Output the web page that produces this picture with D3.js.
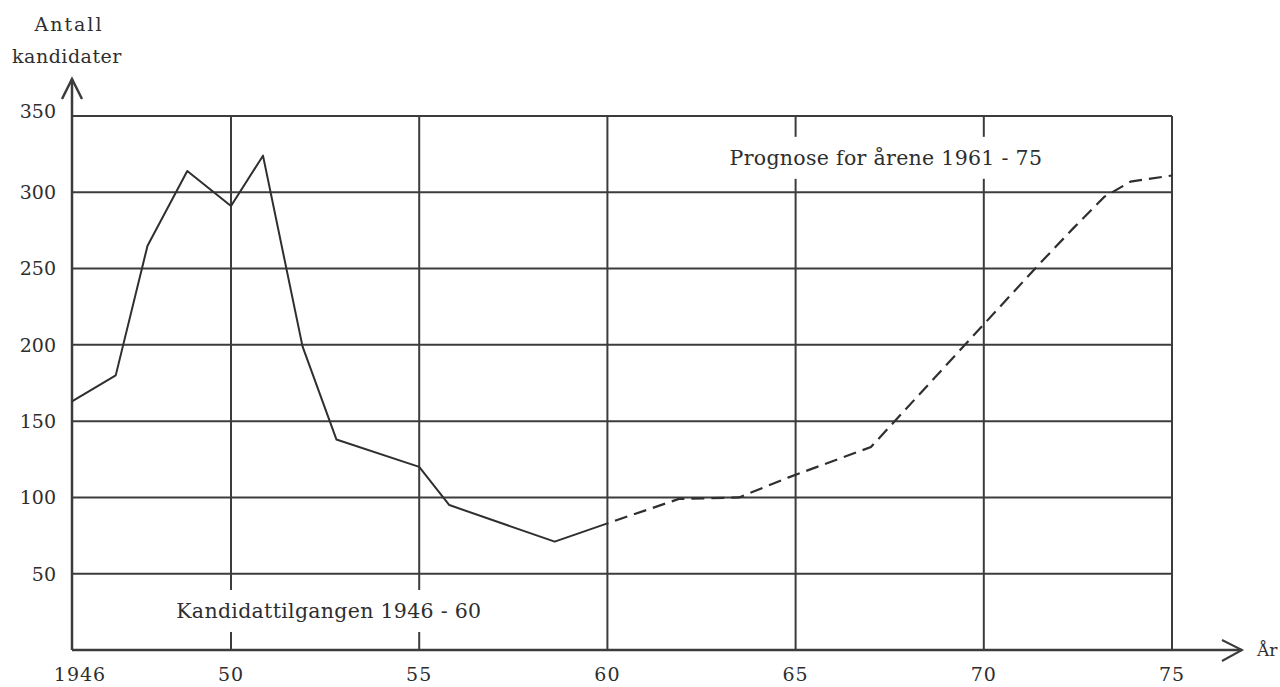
<!DOCTYPE html>
<html>
<head>
<meta charset="utf-8">
<script src="https://cdn.jsdelivr.net/npm/d3@7"></script>
<style>
	body { margin: 0; background: #fff; }
	text { font-family: "DejaVu Serif", "Liberation Serif", serif; fill: #2e2e2e; }
</style>
</head>
<body>
<div id="chart"></div>
<script>
// Antall kandidater, 1946 - 60 (observed) and 1960 - 75 (prognose)
const actualYears = [1946, 1947.1, 1947.9, 1948.9, 1950, 1950.85, 1951.9, 1952.8, 1955, 1955.8, 1958.6, 1960];
const actualValues = [163, 180, 265, 314, 291, 324, 199, 138, 120, 95, 71, 83];

const forecastYears = [1960, 1961.9, 1963.5, 1964.8, 1967, 1971.4, 1972.4, 1973.2, 1973.9, 1975];
const forecastValues = [83, 99, 100, 113, 133, 251, 277, 297, 307, 311];

const xTicks = [1946, 1950, 1955, 1960, 1965, 1970, 1975];
const xTickLabels = ["1946", "50", "55", "60", "65", "70", "75"];
const yTicks = [50, 100, 150, 200, 250, 300, 350];

const W = 1280, H = 687;
const plot = {left: 72, right: 1172, top: 116, bottom: 650};

var svg = d3.select("#chart")
	.append("svg")
	.attr("width", W)
	.attr("height", H);

// the hand drawn grid is a bit wider for the first four years
var x = d3.scaleLinear()
	.domain([1946, 1950, 1975])
	.range([plot.left, 231, plot.right]);

var y = d3.scaleLinear()
	.domain([0, 350])
	.range([plot.bottom, plot.top]);

const ink = "#3c3c3c";

// horizontal grid
svg.append("g")
	.selectAll("line")
	.data(yTicks)
	.enter().append("line")
	.attr("x1", plot.left)
	.attr("x2", plot.right)
	.attr("y1", (d) => y(d))
	.attr("y2", (d) => y(d))
	.attr("stroke", ink)
	.attr("stroke-width", 2);

// vertical grid
svg.append("g")
	.selectAll("line")
	.data(xTicks.slice(1))
	.enter().append("line")
	.attr("x1", (d) => x(d))
	.attr("x2", (d) => x(d))
	.attr("y1", y(350))
	.attr("y2", y(0))
	.attr("stroke", ink)
	.attr("stroke-width", 2);

// axes with arrows
svg.append("line")
	.attr("x1", plot.left).attr("x2", plot.left)
	.attr("y1", plot.bottom).attr("y2", 79)
	.attr("stroke", ink).attr("stroke-width", 2.5);
svg.append("path")
	.attr("d", "M" + (plot.left - 10) + ",99 L" + plot.left + ",79 L" + (plot.left + 10) + ",99")
	.attr("fill", "none").attr("stroke", ink).attr("stroke-width", 2.5);

svg.append("line")
	.attr("x1", plot.left).attr("x2", 1242)
	.attr("y1", plot.bottom).attr("y2", plot.bottom)
	.attr("stroke", ink).attr("stroke-width", 2.5);
svg.append("path")
	.attr("d", "M1222,640 L1242," + plot.bottom + " L1222,661")
	.attr("fill", "none").attr("stroke", ink).attr("stroke-width", 2);

svg.append("text")
	.attr("x", 1257)
	.attr("y", 656)
	.style("font-size", "17px")
	.text("År");

// data lines
var line = d3.line()
	.x((d) => x(d[0]))
	.y((d) => y(d[1]));

svg.append("path")
	.datum(d3.zip(actualYears, actualValues))
	.attr("d", line)
	.attr("fill", "none")
	.attr("stroke", "#2f2f2f")
	.attr("stroke-width", 2)
	.attr("stroke-linejoin", "round");

svg.append("path")
	.datum(d3.zip(forecastYears, forecastValues))
	.attr("d", line)
	.attr("fill", "none")
	.attr("stroke", "#2f2f2f")
	.attr("stroke-width", 2.2)
	.attr("stroke-dasharray", "13,7")
	.attr("stroke-dashoffset", -8);

// labels inside the plot, the grid is broken behind them
function boxedLabel(str, cx, cy) {
	var g = svg.append("g");
	var bg = g.append("rect").attr("fill", "#fff");
	var t = g.append("text")
		.attr("x", cx)
		.attr("y", cy)
		.attr("text-anchor", "middle")
		.style("font-size", "20.5px")
		.style("letter-spacing", "0.3px")
		.text(str);
	var b = t.node().getBBox();
	bg.attr("x", b.x - 4).attr("y", b.y - 9)
		.attr("width", b.width + 8).attr("height", b.height + 18);
}
boxedLabel("Prognose for årene 1961 - 75", x(1967.4), y(318));
boxedLabel("Kandidattilgangen 1946 - 60", x(1952.6), y(21));

// tick labels
svg.append("g")
	.selectAll("text")
	.data(yTicks)
	.enter().append("text")
	.attr("x", 56)
	.attr("y", (d) => y(d) + (d === 350 ? -5 : 0))
	.attr("dy", "0.36em")
	.attr("text-anchor", "end")
	.style("font-size", "19px")
	.text(String);

svg.append("g")
	.selectAll("text")
	.data(xTicks)
	.enter().append("text")
	.attr("x", (d) => x(d) + (d === 1946 ? 8 : 0))
	.attr("y", 681)
	.attr("text-anchor", "middle")
	.style("font-size", "19px")
	.style("letter-spacing", "1px")
	.text((d, i) => xTickLabels[i]);

// y title
svg.append("text")
	.attr("x", 69)
	.attr("y", 31)
	.attr("text-anchor", "middle")
	.style("font-size", "19px")
	.style("letter-spacing", "2px")
	.text("Antall");

svg.append("text")
	.attr("x", 67)
	.attr("y", 63)
	.attr("text-anchor", "middle")
	.style("font-size", "19px")
	.style("letter-spacing", "0.5px")
	.text("kandidater");
</script>
</body>
</html>
